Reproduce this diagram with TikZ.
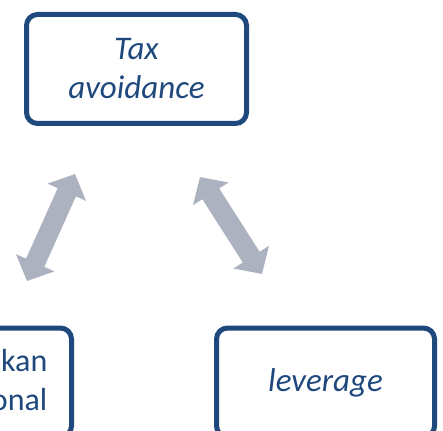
\documentclass[tikz,border=0pt]{standalone}
\usepackage{fontspec}
\setmainfont{Carlito}
\usetikzlibrary{arrows.meta}
\definecolor{boxblue}{HTML}{1F497D}
\definecolor{arrowgray}{HTML}{ADB2C0}
\begin{document}
\begin{tikzpicture}[x=1pt,y=-1pt,
  box/.style={draw=boxblue, line width=5pt, rounded corners=11pt,
    minimum width=220pt, minimum height=109pt, inner sep=0pt,
    text=boxblue, align=center, font=\fontsize{33}{39}\selectfont},
  lbl/.style={text=boxblue, inner sep=0pt, font=\fontsize{32}{38.5}\selectfont},
  dblarrow/.style={draw=arrowgray, line width=20pt,
    {Triangle[width=41pt,length=20pt]}-{Triangle[width=41pt,length=20pt]}}]
\useasboundingbox (0,0) rectangle (443,430);
\clip (0,0) rectangle (443,430);
\node[box] (tax) at (136.5,69) {\itshape Tax\\\itshape avoidance};
\node[box] (own) at (-38.5,382.5) {};
\node[lbl, align=right, anchor=base east] (ownlbl) at (47.5,410) {kan\\onal};
\node[box, minimum width=218pt] (lev) at (325.5,382.5) {\itshape leverage};
\coordinate (la) at (27,281);
\coordinate (lb) at (75,174);
\coordinate (ra) at (200,177);
\coordinate (rb) at (262,274);
\draw[dblarrow] (la) -- (lb);
\draw[dblarrow] (ra) -- (rb);
\end{tikzpicture}
\end{document}
